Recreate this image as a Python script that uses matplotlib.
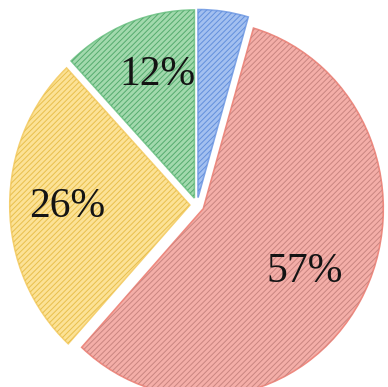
import matplotlib.pyplot as plt

# slice shares, clockwise from the top
shares = [4.5, 57.3, 26.2, 12.0]
labels = ['', '57%', '26%', '12%']
fills = ['#a3c0f0', '#f4aea8', '#fce296', '#a2d9ad']
edges = ['#7fa4e6', '#ee8a80', '#f5d070', '#7cc890']
hatch_cols = ['#628fdc', '#c98580', '#e8bf4c', '#55ab6e']
explode = [0.04, 0.04, 0.04, 0.04]

plt.rcParams['hatch.linewidth'] = 0.7
plt.rcParams['font.family'] = 'Liberation Serif'

fig = plt.figure(figsize=(3.88, 3.87), dpi=100)
ax = fig.add_axes([0, 0, 1, 1])

rx, ry = 180.0, 188.0
cx, cy = 197.0, 205.0

# base fill with a soft outline
wedges, _ = ax.pie(shares, startangle=90, counterclock=False, explode=explode,
                   colors=fills, wedgeprops=dict(linewidth=1.2))
for w, ec in zip(wedges, edges):
    w.set_edgecolor(ec)

# hatch layer on top
hatched, _ = ax.pie(shares, startangle=90, counterclock=False, explode=explode,
                    wedgeprops=dict(linewidth=0, fill=False))
for w, hc in zip(hatched, hatch_cols):
    w.set_edgecolor(hc)
    w.set_linewidth(0)
    w.set_hatch('//////')

# label positions in pixels of the picture
label_px = [None, (305, 272), (67, 207), (157, 75)]
for lab, pos in zip(labels, label_px):
    if not lab:
        continue
    x = (pos[0] - cx) / rx
    y = (cy - pos[1]) / ry
    ax.text(x, y, lab, ha='center', va='center', fontsize=30, color='#141414')

ax.set_xlim(-cx / rx, (388 - cx) / rx)
ax.set_ylim(-(387 - cy) / ry, cy / ry)
ax.set_aspect('auto')
ax.axis('off')

fig.savefig('out.png', dpi=100)
